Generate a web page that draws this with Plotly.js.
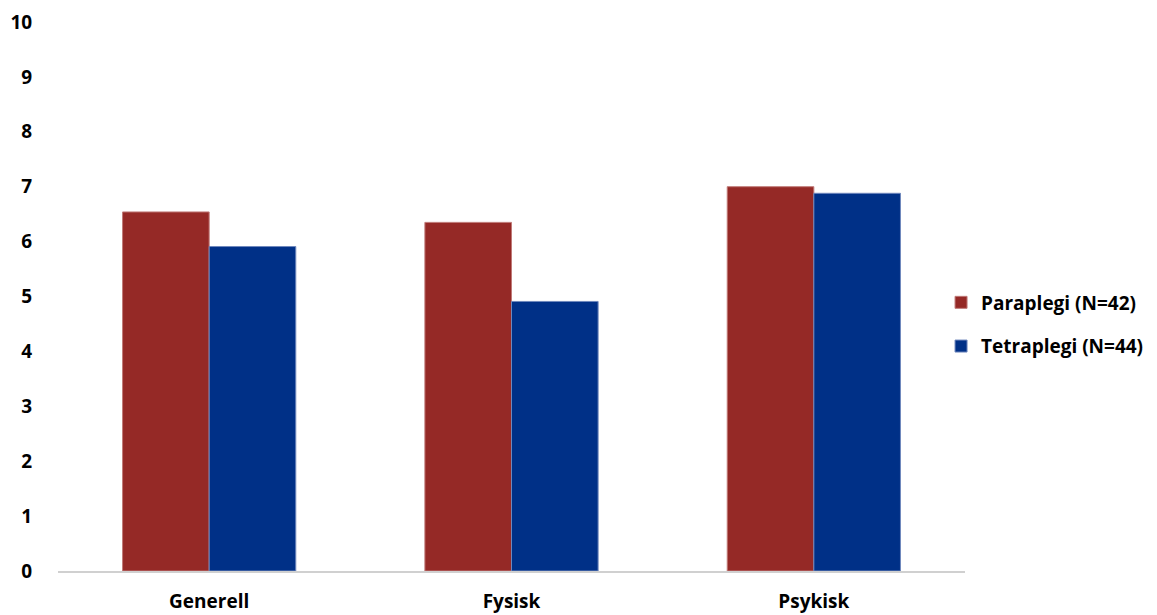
<!DOCTYPE html>
<html>
<head>
<meta charset="utf-8">
<script src="https://cdn.plot.ly/plotly-3.0.1.min.js"></script>
<style>html,body{margin:0;padding:0;background:#fff;}#chart{width:1157px;height:615px;}</style>
</head>
<body>
<div id="chart"></div>
<script>
const categories = ["Generell", "Fysisk", "Psykisk"];
const paraplegi = [6.54, 6.35, 7.0];
const tetraplegi = [5.91, 4.91, 6.88];
const seriesNames = ["Paraplegi (N=42)", "Tetraplegi (N=44)"];
const yTicks = [0,1,2,3,4,5,6,7,8,9,10];

const fontFam = "Open Sans, Liberation Sans, sans-serif";
const data = [
  {type:'bar', x:categories, y:paraplegi, name:seriesNames[0], legendgroup:'a',
   marker:{color:'#952926', line:{color:'#c07a78', width:1}}},
  {type:'bar', x:categories, y:tetraplegi, name:seriesNames[1], legendgroup:'b',
   marker:{color:'#003087', line:{color:'#6f88bd', width:1}}}
];
const layout = {
  width:1157, height:615,
  margin:{l:58, r:0, t:22, b:44, pad:0},
  paper_bgcolor:'#fff', plot_bgcolor:'#fff',
  barmode:'group', bargap:0.427, bargroupgap:0,
  font:{family:fontFam, size:19, color:'#000', weight:700},
  showlegend:true,
  legend:{x:0.8035, xanchor:'left', y:0.449, yanchor:'middle',
    font:{family:fontFam, size:19, color:'#000', weight:700},
    traceorder:'grouped', tracegroupgap:16, itemwidth:30, bgcolor:'rgba(0,0,0,0)'},
  xaxis:{domain:[0, 0.8253], showline:true, linecolor:'#d0d0d0', linewidth:2, ticks:'outside', ticklen:12,
    tickcolor:'rgba(0,0,0,0)', showgrid:false, zeroline:false,
    tickfont:{family:fontFam, size:19, color:'#000', weight:700}},
  yaxis:{range:[0,10], tickvals:yTicks, showgrid:false, zeroline:false, showline:false,
    ticks:'outside', ticklen:21, tickcolor:'rgba(0,0,0,0)',
    tickfont:{family:fontFam, size:19, color:'#000', weight:700}}
};
Plotly.newPlot('chart', data, layout, {displayModeBar:false});
</script>
</body>
</html>
